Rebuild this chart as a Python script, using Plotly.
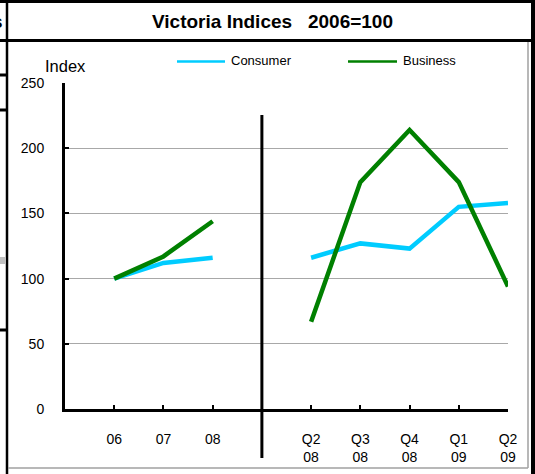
import plotly.graph_objects as go

# ---- data ----
categories = ["06", "07", "08", "", "Q2<br>08", "Q3<br>08", "Q4<br>08", "Q1<br>09", "Q2<br>09"]
annual_idx = [0, 1, 2]
quarter_idx = [4, 5, 6, 7, 8]
consumer_annual = [100, 112, 116]
business_annual = [100, 117, 144]
consumer_quarterly = [116, 127, 123, 155, 158]
business_quarterly = [67, 174, 214, 174, 94]
series_names = ["Consumer", "Business"]
series_colors = ["#00CCFF", "#008000"]
y_ticks = [0, 50, 100, 150, 200, 250]
title_text = "Victoria Indices\u00a0\u00a0\u00a02006=100"

W, H = 535, 474
L, R, T, B = 65, 508, 83, 409  # plot area in pixels
FONT = "Liberation Sans, Arial, sans-serif"


def px(x):
    return (x - L) / (R - L)


def py(y):
    return (B - y) / (B - T)


fig = go.Figure()
for name, color, a_vals, q_vals in zip(series_names, series_colors,
                                       [consumer_annual, business_annual],
                                       [consumer_quarterly, business_quarterly]):
    fig.add_trace(go.Scatter(x=annual_idx, y=a_vals, mode="lines", name=name,
                             line=dict(color=color, width=4.5), showlegend=False))
    fig.add_trace(go.Scatter(x=quarter_idx, y=q_vals, mode="lines", name=name,
                             line=dict(color=color, width=4.5), showlegend=False))

shapes = []
# divider line between annual and quarterly panels
shapes.append(dict(type="line", xref="x", yref="paper", x0=3, x1=3, y0=py(115), y1=py(458),
                   line=dict(color="black", width=3)))


def hline(y, x0, x1, color="black", width=3):
    shapes.append(dict(type="line", xref="paper", yref="paper", x0=px(x0), x1=px(x1),
                       y0=py(y), y1=py(y), line=dict(color=color, width=width)))


def vline(x, y0, y1, color="black", width=3):
    shapes.append(dict(type="line", xref="paper", yref="paper", x0=px(x), x1=px(x),
                       y0=py(y0), y1=py(y1), line=dict(color=color, width=width)))


# frame
hline(1.5, 0, 535)
hline(40.5, 0, 535)
vline(7, 0, 474, width=2.5)
vline(533, 0, 474, width=4)
vline(528, 42, 468, color="#a0a0a0", width=1.5)
hline(468, 8, 528, color="#a0a0a0", width=1.5)
# fragments of neighbouring content at the far left
for yy in [75, 110, 330]:
    hline(yy, 0, 7)
shapes.append(dict(type="rect", xref="paper", yref="paper", x0=px(0), x1=px(5),
                   y0=py(257), y1=py(264), line=dict(width=0), fillcolor="#c0c0c0"))

# legend swatches
legend_lines = [(177, 225), (348, 397)]
for (x0, x1), color in zip(legend_lines, series_colors):
    shapes.append(dict(type="line", xref="paper", yref="paper", x0=px(x0), x1=px(x1),
                       y0=py(61.5), y1=py(61.5), line=dict(color=color, width=2.5)))

annotations = []
annotations.append(dict(text="<b>" + title_text + "</b>", xref="paper", yref="paper",
                        x=px(272), y=py(22), xanchor="center", yanchor="middle",
                        showarrow=False, font=dict(family=FONT, size=19, color="black")))
annotations.append(dict(text="<b>s</b>", xref="paper", yref="paper",
                        x=px(5), y=py(22), xanchor="right", yanchor="middle",
                        showarrow=False, font=dict(family=FONT, size=19, color="black")))
annotations.append(dict(text="Index", xref="paper", yref="paper",
                        x=px(43), y=py(66), xanchor="left", yanchor="middle",
                        showarrow=False, font=dict(family=FONT, size=16.5, color="black")))
for (x0, x1), name in zip(legend_lines, series_names):
    annotations.append(dict(text=name, xref="paper", yref="paper",
                            x=px(x1 + 4), y=py(61), xanchor="left", yanchor="middle",
                            showarrow=False, font=dict(family=FONT, size=13, color="black")))

fig.update_layout(
    width=W, height=H,
    margin=dict(l=L, r=W - R, t=T, b=H - B, pad=0, autoexpand=False),
    paper_bgcolor="white", plot_bgcolor="white",
    showlegend=False,
    shapes=shapes, annotations=annotations,
    font=dict(family=FONT, size=14, color="black"),
)
fig.update_xaxes(range=[-1, 8], tickmode="array", tickvals=list(range(len(categories))),
                 ticktext=categories, showgrid=False, zeroline=False, automargin=False,
                 showline=True, linecolor="black", linewidth=3,
                 ticks="inside", ticklen=4, tickwidth=2, tickcolor="black",
                 ticklabelstandoff=15, tickfont=dict(family=FONT, size=14))
fig.update_yaxes(range=[0, 250], tickmode="array", tickvals=y_ticks,
                 showgrid=True, gridcolor="#a8a8a8", gridwidth=1, zeroline=False, automargin=False,
                 showline=True, linecolor="black", linewidth=3,
                 ticks="inside", ticklen=4, tickwidth=2, tickcolor="black",
                 ticklabelstandoff=15, tickfont=dict(family=FONT, size=14))

fig.write_html("out.html", config={"displayModeBar": False},
               post_script="document.body.style.margin='0';document.body.style.padding='0';")
